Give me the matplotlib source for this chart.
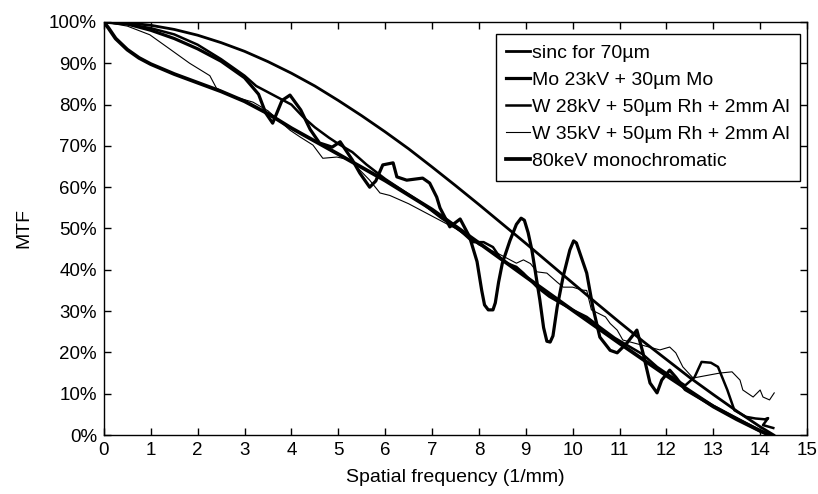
import matplotlib.pyplot as plt
from matplotlib.ticker import FuncFormatter

plt.rcParams['font.family'] = ['Liberation Sans', 'DejaVu Sans']

# --- Data (frequency in 1/mm, MTF in %) ---
sinc_f = [0, 0.5, 1, 1.5, 2, 2.5, 3, 3.5, 4, 4.5, 5, 5.5, 6, 6.5, 7, 7.5,
          8, 8.5, 9, 9.5, 10, 10.5, 11, 11.5, 12, 12.5, 13, 13.5, 14, 14.29]
sinc_mtf = [100, 99.8, 99.2, 98.2, 96.8, 95.0, 92.9, 90.4, 87.6, 84.5, 81.0,
            77.3, 73.4, 69.3, 64.9, 60.4, 55.8, 51.1, 46.4, 41.6, 36.8, 32.0,
            27.3, 22.7, 18.3, 13.9, 9.8, 5.8, 2.0, 0]

mo_f = [0, 0.5, 1, 1.5, 2, 2.5, 3, 3.3, 3.45, 3.6, 3.8, 3.97, 4.2, 4.4, 4.6,
        4.87, 5.04, 5.3, 5.46, 5.67, 5.8, 5.95, 6.17, 6.25, 6.46, 6.8, 6.95,
        7.1, 7.17, 7.38, 7.6, 7.8, 7.96, 8.06, 8.12, 8.2, 8.3, 8.35, 8.42, 8.5,
        8.66, 8.8, 8.9, 8.97, 9.05, 9.13, 9.3, 9.38, 9.45, 9.52, 9.58, 9.67,
        9.8, 9.94, 10.02, 10.08, 10.3, 10.43, 10.58, 10.8, 10.95, 11.16, 11.37,
        11.5, 11.65, 11.8, 11.9, 12.07, 12.2, 12.4, 12.7, 13.0, 13.5, 14.0,
        14.2]
mo_mtf = [100, 99.5, 98, 96, 93.5, 90.5, 86.5, 82.5, 78, 75.5, 81, 82.3, 78.7,
          74, 70.7, 69.7, 71, 66.6, 63.4, 60, 61.5, 65.4, 65.9, 62.5, 61.7,
          62.2, 61, 57.6, 55, 50.4, 52.3, 48, 42, 35, 31.5, 30.3, 30.3, 32, 37,
          41.6, 47, 51, 52.5, 52, 49, 44.8, 32.7, 26, 22.7, 22.5, 24, 31, 38.5,
          44.8, 47, 46.5, 39.2, 31, 23.7, 20.5, 19.9, 22.3, 25.4, 19.9, 12.6,
          10.2, 13.3, 15.7, 14, 11, 9, 7, 4, 1, 0]

w28_f = [0, 0.5, 1, 1.5, 2, 2.5, 3, 3.25, 3.5, 3.75, 4.0, 4.25, 4.5, 4.8, 5.0,
         5.3, 5.6, 6.0, 6.4, 6.8, 7.2, 7.6, 7.87, 8.1, 8.3, 8.45, 8.6, 8.8,
         8.95, 9.24, 9.5, 9.73, 10.0, 10.3, 10.6, 10.9, 11.2, 11.5, 11.8, 12.1,
         12.4, 12.6, 12.75, 12.95, 13.1, 13.3, 13.45, 13.7, 13.9, 14.1, 14.17,
         14.06, 14.28]
w28_mtf = [100, 99.5, 98.5, 97, 94.5, 91, 87, 84.5, 83, 81.5, 80, 77, 74.5, 72,
           70.5, 68.5, 65.5, 62, 59, 56, 52.5, 49.5, 46.7, 46.7, 45.5, 43, 41.6,
           40.7, 39.2, 35.8, 33.5, 32, 30.3, 28.6, 26, 23.5, 21.5, 19.5, 16.5,
           14.2, 12, 14, 17.7, 17.5, 16.5, 10.9, 6, 4.4, 4, 3.8, 4.1, 2.4, 1.7]

w35_f = [0, 0.5, 0.98, 1.4, 1.83, 2.26, 2.4, 2.75, 3.18, 3.5, 3.97, 4.18, 4.46,
         4.67, 4.97, 5.25, 5.67, 5.89, 6.1, 6.5, 7.0, 7.5, 8.0, 8.4, 8.8, 8.95,
         9.1, 9.24, 9.45, 9.67, 9.8, 10.0, 10.2, 10.3, 10.4, 10.7, 10.8, 10.95,
         11.07, 11.4, 11.86, 12.07, 12.2, 12.35, 12.57, 12.9, 13.14, 13.4,
         13.57, 13.63, 13.85, 14.0, 14.06, 14.2, 14.3]
w35_mtf = [100, 99, 96.9, 93.5, 90, 87, 84, 82, 80.6, 78.5, 73.8, 72.2, 70.2,
           67, 67.3, 66.6, 61.7, 58.6, 58, 56, 53, 50, 46, 44, 41.6, 42.4, 41.5,
           39.5, 39.2, 37, 35.8, 35.8, 35.1, 35, 30.3, 28.6, 27, 25.4, 23, 22,
           20.6, 21.3, 19.9, 16.5, 13.8, 14.5, 15, 15.3, 13.3, 10.9, 9.2, 10.9,
           9.2, 8.5, 10.2]

mono_f = [0, 0.1, 0.25, 0.5, 0.75, 1, 1.5, 2, 2.5, 3, 3.5, 4, 5, 6, 7, 8, 9,
          10, 11, 12, 13, 13.5, 14, 14.2]
mono_mtf = [100, 98.5, 96, 93.3, 91.3, 89.8, 87.4, 85.3, 83.2, 80.8, 77.8,
            74.3, 68, 61.6, 54.6, 46.5, 38.3, 30.2, 22.2, 14.4, 6.9, 3.8, 1.0, 0]

# --- Plot ---
fig = plt.figure(figsize=(8.18, 4.94), dpi=100)
ax = fig.add_axes([0.127, 0.1194, 0.8596, 0.8361])

ax.plot(sinc_f, sinc_mtf, color="black", lw=2.0, label="sinc for 70µm")
ax.plot(mo_f, mo_mtf, color="black", lw=2.3, label="Mo 23kV + 30µm Mo")
ax.plot(w28_f, w28_mtf, color="black", lw=1.8, label="W 28kV + 50µm Rh + 2mm Al")
ax.plot(w35_f, w35_mtf, color="black", lw=0.8, label="W 35kV + 50µm Rh + 2mm Al")
ax.plot(mono_f, mono_mtf, color="black", lw=2.7, label="80keV monochromatic")

ax.set_xlim(0, 15)
ax.set_ylim(0, 100)
ax.set_xticks(range(0, 16))
ax.set_yticks(range(0, 101, 10))
ax.yaxis.set_major_formatter(FuncFormatter(lambda v, p: "%d%%" % v))
ax.tick_params(direction="in", top=True, right=True, length=5, width=1,
               labelsize=13.5, pad=5)
for s in ax.spines.values():
    s.set_linewidth(1)

ax.set_xlabel("Spatial frequency (1/mm)", fontsize=14, labelpad=7)
ax.set_ylabel("MTF", fontsize=14, labelpad=12)

leg = ax.legend(loc="upper right", bbox_to_anchor=(0.990, 0.971),
                fontsize=14, handlelength=1.2, handletextpad=0.1,
                labelspacing=0.48, borderpad=0.55, borderaxespad=0,
                fancybox=False, framealpha=1)
leg.get_frame().set_edgecolor("black")
leg.get_frame().set_linewidth(1)

fig.savefig("out.png", dpi=100)
